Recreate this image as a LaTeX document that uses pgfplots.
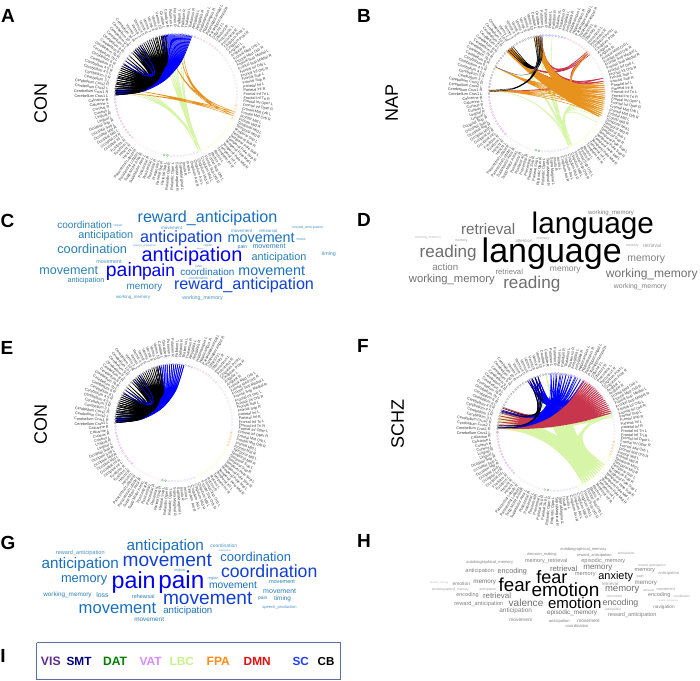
\documentclass[border=0pt]{standalone}
\usepackage{fontspec}
\setmainfont{Liberation Sans}
\usepackage{pgfplots}
\pgfplotsset{compat=1.18}
\definecolor{cA}{HTML}{0000F2}\definecolor{cB}{HTML}{0F3FD6}\definecolor{cC}{HTML}{1A6FBE}\definecolor{cD}{HTML}{2A7FB6}\definecolor{cE}{HTML}{4A93C4}
\definecolor{k0}{HTML}{000000}\definecolor{k1}{HTML}{6E6E6E}\definecolor{k2}{HTML}{808080}\definecolor{k3}{HTML}{989898}\definecolor{k4}{HTML}{B4B4B4}
\definecolor{labgray}{HTML}{3A3A3A}\definecolor{frameblue}{HTML}{5B6FA6}
\definecolor{chO}{HTML}{E8921E}\definecolor{chG}{HTML}{D6F5A6}\definecolor{chR}{HTML}{C8364E}
\tikzset{lbl/.style={font=\fontsize{3.8}{3.8}\selectfont,inner sep=0pt,text=labgray}}
\pgfplotsset{chord/.style={no markers,smooth,unbounded coords=jump,line width=.4pt,forget plot}}
\newcommand\wf{\fontsize{20}{24}\selectfont}
\newcommand\w[5]{\node[inner sep=0pt,text=#4] at (axis cs:#1,#2) {\resizebox{#3pt}{!}{\wf #5}};}
\def\AAL{Caudate L,Caudate R,Putamen L,Putamen R,Pallidum L,Pallidum R,Thalamus L,Thalamus R,Amygdala L,Amygdala R,Hippocampus L,Hippocampus R,ParaHippocampal L,ParaHippocampal R,Olfactory L,Olfactory R,Precuneus L,Precuneus R,Cingulum Post L,Cingulum Post R,Angular L,Angular R,Frontal Med Orb L,Frontal Med Orb R,Frontal Sup Medial L,Frontal Sup Medial R,Frontal Inf Orb L,Frontal Inf Orb R,Frontal Sup L,Frontal Sup R,Parietal Inf L,Parietal Inf R,Frontal Inf Tri L,Frontal Inf Tri R,Frontal Inf Oper L,Frontal Inf Oper R,Frontal Mid Orb L,Frontal Mid Orb R,Frontal Mid L,Frontal Mid R,Temporal Mid L,Temporal Mid R,Temporal Sup L,Temporal Sup R,Temporal Pole Sup L,Temporal Pole Sup R,Temporal Pole Mid L,Temporal Pole Mid R,Temporal Inf L,Temporal Inf R,Rectus L,Rectus R,Frontal Sup Orb L,Frontal Sup Orb R,Cingulum Mid L,Cingulum Mid R,Cingulum Ant L,Cingulum Ant R,Insula L,Insula R,SupraMarginal L,SupraMarginal R,Rolandic Oper L,Rolandic Oper R,Parietal Sup L,Parietal Sup R,Precentral L,Precentral R,Postcentral L,Postcentral R,Supp Motor Area L,Supp Motor Area R,Paracentral Lobule L,Paracentral Lobule R,Heschl L,Heschl R,Fusiform L,Fusiform R,Occipital Inf L,Occipital Inf R,Occipital Mid L,Occipital Mid R,Occipital Sup L,Occipital Sup R,Lingual L,Lingual R,Cuneus L,Cuneus R,Calcarine L,Calcarine R,Cerebellum Crus1 L,Cerebellum Crus1 R,Cerebellum Crus2 L,Cerebellum Crus2 R,Cerebellum 3 L,Cerebellum 3 R,Cerebellum 4 5 L,Cerebellum 4 5 R,Cerebellum 6 L,Cerebellum 6 R,Cerebellum 7b L,Cerebellum 7b R,Cerebellum 8 L,Cerebellum 8 R,Cerebellum 9 L,Cerebellum 9 R,Cerebellum 10 L,Cerebellum 10 R,Vermis 1 2,Vermis 3,Vermis 4 5,Vermis 6,Vermis 7,Vermis 8,Vermis 9,Vermis 10}
% chord bundle: centre x, centre y, radius, options, node angles of one end, node angles of other end
\newcommand\fan[6]{%
 \gdef\chordpts{}%
 \foreach \ca in {#5}{\foreach \cb in {#6}{%
  \pgfmathsetmacro\ax{#3*cos(\ca)}\pgfmathsetmacro\ay{-#3*sin(\ca)}%
  \pgfmathsetmacro\bx{#3*cos(\cb)}\pgfmathsetmacro\by{-#3*sin(\cb)}%
  \pgfmathsetmacro\xa{#1+\ax}\pgfmathsetmacro\ya{#2+\ay}%
  \pgfmathsetmacro\xb{#1+.5625*\ax+.0625*\bx}\pgfmathsetmacro\yb{#2+.5625*\ay+.0625*\by}%
  \pgfmathsetmacro\xc{#1+.25*\ax+.25*\bx}\pgfmathsetmacro\yc{#2+.25*\ay+.25*\by}%
  \pgfmathsetmacro\xd{#1+.0625*\ax+.5625*\bx}\pgfmathsetmacro\yd{#2+.0625*\ay+.5625*\by}%
  \pgfmathsetmacro\xe{#1+\bx}\pgfmathsetmacro\ye{#2+\by}%
  \xdef\chordpts{\chordpts(\xa,\ya)(\xb,\yb)(\xc,\yc)(\xd,\yd)(\xe,\ye)(nan,nan)}%
 }}%
 \edef\tmp{\noexpand\addplot[chord,#4] coordinates {\chordpts};}\tmp
}
\newcommand\arcmarks[5]{%
 \gdef\chordpts{}%
 \foreach \ca in {#5}{%
  \pgfmathsetmacro\xa{#1+#3*cos(\ca)}\pgfmathsetmacro\ya{#2-#3*sin(\ca)}%
  \xdef\chordpts{\chordpts(\xa,\ya)}%
 }%
 \edef\tmp{\noexpand\addplot[only marks,forget plot,mark=o,mark size=1pt,mark options={line width=.32pt,draw=#4,fill=white}] coordinates {\chordpts};}\tmp
}
\newcommand\ringnodes[3]{%
 \arcmarks{#1}{#2}{#3}{blue!35}{100,96.9,...,72}
 \arcmarks{#1}{#2}{#3}{blue!25!red!18}{72,68.9,...,44}
 \arcmarks{#1}{#2}{#3}{red!28!blue!10}{44,40.9,...,-10}
 \arcmarks{#1}{#2}{#3}{orange!40}{-10,-13.1,...,-24}
 \arcmarks{#1}{#2}{#3}{green!22!yellow!20}{-24,-27.1,...,-70}
 \arcmarks{#1}{#2}{#3}{red!28!blue!14}{-70,-73.1,...,-98}
 \arcmarks{#1}{#2}{#3}{green!50!black!50}{-98,-101.1,...,-104}
 \arcmarks{#1}{#2}{#3}{blue!28!red!8}{-104,-107.1,...,-136}
 \arcmarks{#1}{#2}{#3}{violet!28}{-136,-139.1,...,-180}
 \arcmarks{#1}{#2}{#3}{black!32}{-180,-183.1,...,-260}
}
\newcommand\labelring[3]{%
 \foreach \lab [count=\i from 0] in \AAL {%
  \pgfmathsetmacro\ang{100-\i*3.103}%
  \pgfmathsetmacro\csv{cos(\ang)}%
  \pgfmathsetmacro\xa{#1+(#3+6.5)*\csv}%
  \pgfmathsetmacro\ya{#2-(#3+6.5)*sin(\ang)}%
  \ifdim\csv pt>0pt
   \edef\tmp{\noexpand\node[lbl,anchor=west,rotate=\ang] at (axis cs:\xa,\ya) {\lab};}%
  \else
   \pgfmathsetmacro\rot{\ang+180}%
   \edef\tmp{\noexpand\node[lbl,anchor=east,rotate=\rot] at (axis cs:\xa,\ya) {\lab};}%
  \fi
  \tmp
 }%
}
\begin{document}
\begin{tikzpicture}
\begin{axis}[hide axis,scale only axis,width=700pt,height=680pt,xmin=0,xmax=700,ymin=0,ymax=680,y dir=reverse,clip=false,enlargelimits=false]
\path (axis cs:0,0) rectangle (axis cs:700,680);
% ---------- panel A
\ringnodes{176}{95}{61}\labelring{176}{95}{61}
\fan{176}{95}{61}{color=chG,line width=.5pt}{-66,-68}{168,172,175,178,80,84,92,96,100,104,108}
\fan{176}{95}{61}{color=chO,line width=.3pt}{-16,-18,-20}{82,86,100,173,178}
\fan{176}{95}{61}{color=blue,line width=.7pt}{170,172,...,180}{76,78,...,104}
\fan{176}{95}{61}{color=blue,line width=.7pt}{176,177,178,179,180}{75,77,...,103}
\fan{176}{95}{61}{color=black,line width=.55pt}{100,102,...,124}{152,154,...,180}
\fan{176}{95}{61}{color=black,line width=.55pt}{126,128,...,136}{150,152,...,180}
\fan{176}{95}{61}{color=black,line width=.55pt}{100,103,...,112}{126,128,...,134}
\fan{176}{95}{61}{color=black,line width=.55pt}{140,143,...,150}{160,163,...,178}
\fan{176}{95}{61}{color=blue}{126,132}{146,150}
% ---------- panel B
\ringnodes{547}{93.3}{58}\labelring{547}{93.3}{58}
\fan{547}{93.3}{58}{color=chG,line width=.5pt}{-67,-65}{85,97,100,103,128,131,177}
\fan{547}{93.3}{58}{color=chG,line width=.5pt}{-66,-68,-64}{-30,-24,-20,-16,-12,-8}
\fan{547}{93.3}{58}{color=chR,line width=.5pt}{42,44,46}{97,99,101,130,132}
\fan{547}{93.3}{58}{color=chR,line width=.5pt}{12,15}{97,99,101,129,132,177}
\fan{547}{93.3}{58}{color=chR,line width=.5pt}{44,46}{8,12,15}
\fan{547}{93.3}{58}{color=chO,line width=.6pt}{128,129,...,134}{10,8,...,-24}
\fan{547}{93.3}{58}{color=chO,line width=.6pt}{97,99,101,103}{10,8,...,-24}
\fan{547}{93.3}{58}{color=chO,line width=.5pt}{153,177}{8,2,...,-24}
\fan{547}{93.3}{58}{color=chO,line width=.5pt}{44,46}{-20,-24,-5}
\fan{547}{93.3}{58}{color=black}{95,97,...,103}{126,128,130,132}
\fan{547}{93.3}{58}{color=black}{95,98,101}{177,178.5}
\fan{547}{93.3}{58}{color=black!60}{153}{95,100}
% ---------- panel E
\ringnodes{173.7}{422.7}{58.5}\labelring{173.7}{422.7}{58.5}
\fan{173.7}{422.7}{58.5}{color=blue,line width=.7pt}{170,172,...,180}{80,82,...,106}
\fan{173.7}{422.7}{58.5}{color=blue,line width=.7pt}{176,177,178,179,180}{80,82,...,105}
\fan{173.7}{422.7}{58.5}{color=black,line width=.55pt}{104,106,...,124}{152,154,...,180}
\fan{173.7}{422.7}{58.5}{color=black,line width=.55pt}{126,128,...,136}{150,152,...,180}
\fan{173.7}{422.7}{58.5}{color=black,line width=.55pt}{104,107,...,112}{126,128,...,134}
\fan{173.7}{422.7}{58.5}{color=black,line width=.55pt}{140,143,...,150}{160,163,...,178}
\fan{173.7}{422.7}{58.5}{color=blue}{126,132}{146,150}
% ---------- panel F
\ringnodes{556}{432}{58.6}\labelring{556}{432}{58.6}
\fan{556}{432}{58.6}{color=chG,line width=.9pt}{-62,-59.5,...,-33}{176,174,...,158}
\fan{556}{432}{58.6}{color=chG,line width=.9pt}{-62,-59.5,...,-33}{119,100,90,80,70,17,20}
\fan{556}{432}{58.6}{color=chG,line width=.9pt}{176,170,165}{15,17,19,22}
\fan{556}{432}{58.6}{color=chR,line width=.7pt}{19,21,...,62}{176,173,...,155}
\fan{556}{432}{58.6}{color=chR,line width=.7pt}{19,21,...,62}{119,115,111}
\fan{556}{432}{58.6}{color=blue,line width=.45pt}{62,65,...,95}{176,174,160,158,119,115,111}
\fan{556}{432}{58.6}{color=blue,line width=.45pt}{108,111,...,119}{176,159,65,70,75,80,85,90,95}
\fan{556}{432}{58.6}{color=black}{108,111,...,119}{159,156,176,174}
% ---------- row labels and panel letters
\foreach \t/\x/\y in {A/8/16,B/364/16,C/7.5/221,D/364/220,E/7/348,F/363/346,G/8/543,H/364/541,I/3/656}{%
 \edef\tmp{\noexpand\node[inner sep=0pt,font=\noexpand\fontsize{19}{20}\noexpand\selectfont\noexpand\bfseries] at (axis cs:\x,\y) {\t};}\tmp}
\foreach \t/\x/\y in {CON/40.7/103,NAP/391.7/103,CON/40.7/424.5,SCHZ/397.7/424}{%
 \edef\tmp{\noexpand\node[inner sep=0pt,rotate=90,font=\noexpand\fontsize{18}{20}\noexpand\selectfont] at (axis cs:\x,\y) {\t};}\tmp}
% ---------- word cloud C
\w{207.5}{218.3}{139.7}{cC}{reward\_anticipation}
\w{84.7}{225.3}{54.7}{cD}{coordination}
\w{118}{225.3}{9}{cE}{region}
\w{105.8}{235.7}{55}{cD}{anticipation}
\w{181.2}{238}{82.3}{cB}{anticipation}
\w{171.7}{227.7}{21}{cE}{movement}
\w{241.7}{230.7}{21}{cE}{movement}
\w{268.3}{230.7}{18}{cE}{rehearsal}
\w{307.8}{228}{31}{cE}{reward\_anticipation}
\w{261.2}{237.7}{67}{cC}{movement}
\w{301.3}{239.3}{9.3}{cE}{motor}
\w{92.2}{249.3}{69.7}{cD}{coordination}
\w{144.7}{246}{22.7}{cE}{speech\_production}
\w{192}{256}{100.7}{cA}{anticipation}
\w{200}{248.7}{7}{cE}{memory}
\w{208}{245.7}{9}{cE}{region}
\w{242.5}{246.7}{9.7}{cD}{pain}
\w{269}{246.7}{33}{cD}{movement}
\w{279}{258}{55}{cD}{anticipation}
\w{328.8}{253.7}{14.3}{cE}{timing}
\w{109}{261.7}{25.3}{cE}{movement}
\w{68.7}{270.3}{58.7}{cD}{movement}
\w{124.3}{271.7}{36.7}{cA}{pain}
\w{158.5}{271.7}{33}{cA}{pain}
\w{207.3}{272}{54}{cC}{coordination}
\w{199}{266.3}{6.7}{cE}{pain}
\w{198.2}{278.7}{19}{cE}{coordination}
\w{271.7}{271}{66.7}{cC}{movement}
\w{86}{280.7}{36.7}{cD}{anticipation}
\w{244}{285.7}{140}{cB}{reward\_anticipation}
\w{144.5}{287.7}{35.7}{cD}{memory}
\w{133}{297.7}{34}{cE}{working\_memory}
\w{202.5}{297.7}{40.3}{cE}{working\_memory}
% ---------- word cloud D
\w{592.8}{226}{122.3}{k0}{language}
\w{611}{213}{46}{k2}{working\_memory}
\w{488.2}{229}{54.3}{k1}{retrieval}
\w{428}{237.7}{26}{k4}{working\_memory}
\w{461.2}{240.7}{12.3}{k3}{memory}
\w{524}{240.7}{17.3}{k3}{attention}
\w{543}{239.3}{12.7}{k3}{memory}
\w{551.7}{253.3}{140}{k0}{language}
\w{632.5}{246}{12.3}{k3}{memory}
\w{652}{246}{18.3}{k3}{retrieval}
\w{448.2}{253}{57}{k1}{reading}
\w{445.3}{266.7}{26}{k2}{action}
\w{646.2}{259.3}{37.7}{k2}{memory}
\w{509.3}{271.7}{27.3}{k2}{retrieval}
\w{565.3}{270}{30.7}{k2}{memory}
\w{651.8}{274.7}{91.7}{k1}{working\_memory}
\w{451.8}{279.7}{85.7}{k1}{working\_memory}
\w{531.8}{284.3}{57}{k1}{reading}
\w{640.3}{286.7}{52.7}{k2}{working\_memory}
% ---------- word cloud G
\w{165.3}{546.7}{77.3}{cC}{anticipation}
\w{223.7}{546}{26.7}{cE}{coordination}
\w{224.7}{550.7}{12}{cE}{anticipation}
\w{80.3}{553.3}{48.7}{cE}{reward\_anticipation}
\w{167.3}{560.7}{89.3}{cB}{movement}
\w{255.7}{556.7}{70.7}{cC}{coordination}
\w{80.3}{565}{77.3}{cC}{anticipation}
\w{269.2}{571}{96.3}{cB}{coordination}
\w{179.5}{570.7}{11}{cE}{region}
\w{84.2}{580.7}{46.3}{cC}{memory}
\w{133.7}{582.7}{44}{cA}{pain}
\w{181.3}{581.7}{46}{cA}{pain}
\w{213}{578.7}{11}{cE}{region}
\w{233}{585.3}{48}{cC}{movement}
\w{282}{581.7}{26}{cD}{movement}
\w{279.7}{591.7}{33}{cD}{movement}
\w{67.5}{595}{48.3}{cD}{working\_memory}
\w{102.5}{595}{12.3}{cD}{loss}
\w{143.3}{596.7}{22.7}{cD}{rehearsal}
\w{207.7}{598.3}{89.3}{cB}{movement}
\w{262.7}{598.3}{9.3}{cD}{pain}
\w{282.5}{599}{17}{cD}{timing}
\w{117.5}{607.7}{77.7}{cC}{movement}
\w{187.8}{611}{49}{cC}{anticipation}
\w{279.5}{607.7}{34.3}{cE}{speech\_production}
\w{149.2}{619}{29.7}{cD}{movement}
% ---------- word cloud H
\w{583.3}{549.7}{46}{k2}{autobiographical\_memory}
\w{542}{554}{29.3}{k2}{decision\_making}
\w{594.3}{555.3}{34.7}{k2}{reward\_anticipation}
\w{626}{553.7}{17}{k3}{anticipation}
\w{489.7}{562}{46.7}{k2}{autobiographical\_memory}
\w{546.2}{560.7}{42.3}{k2}{memory\_retrieval}
\w{603.3}{561.3}{44}{k2}{episodic\_memory}
\w{651.8}{565.3}{27.7}{k3}{reward\_anticipation}
\w{479.7}{571}{28.7}{k2}{anticipation}
\w{512.3}{571.3}{29.3}{k1}{encoding}
\w{563.7}{568.7}{27.3}{k1}{retrieval}
\w{597.8}{568.3}{29}{k1}{memory}
\w{644.8}{570.3}{20.3}{k2}{memory}
\w{668.7}{573.7}{20.7}{k3}{anticipation}
\w{551.8}{576.7}{31}{k0}{fear}
\w{585.3}{575}{20.7}{k2}{memory}
\w{615.7}{577}{34.7}{k0}{anxiety}
\w{640.2}{576.7}{7}{k3}{pain}
\w{461.3}{583.7}{17.3}{k2}{emotion}
\w{484.7}{582.7}{22.7}{k1}{memory}
\w{514.8}{585}{32.3}{k0}{fear}
\w{565.5}{589.7}{67.7}{k0}{emotion}
\w{610}{584.3}{16.3}{k3}{retrieval}
\w{645.8}{583}{22.3}{k2}{memory}
\w{450.3}{589.3}{36.7}{k3}{autobiographical\_memory}
\w{487.7}{589.7}{16.7}{k3}{anticipation}
\w{439}{582.7}{18}{k4}{decision\_making}
\w{622.2}{590.3}{34.3}{k1}{memory}
\w{648.3}{590}{11}{k3}{retrieval}
\w{665.8}{589}{18.3}{k3}{movement}
\w{467.5}{594.7}{22.3}{k2}{encoding}
\w{497}{595.7}{28}{k1}{retrieval}
\w{659.2}{595.3}{22.3}{k2}{encoding}
\w{614.5}{596.3}{15}{k3}{movement}
\w{681.7}{596.3}{16.7}{k3}{coordination}
\w{478.8}{604}{49}{k2}{reward\_anticipation}
\w{526}{602.7}{34.7}{k1}{valence}
\w{574.7}{603.3}{53.3}{k0}{emotion}
\w{620.5}{603.3}{35.7}{k1}{encoding}
\w{668.2}{600.7}{20}{k4}{reward\_anticipation}
\w{515.7}{611}{32.7}{k2}{anticipation}
\w{572}{613}{50}{k1}{episodic\_memory}
\w{613}{609.3}{16}{k3}{anticipation}
\w{664}{607.7}{21.3}{k2}{navigation}
\w{632.2}{615.3}{48.3}{k2}{reward\_anticipation}
\w{520.7}{619.7}{22.7}{k2}{movement}
\w{559.3}{621}{20.7}{k2}{anticipation}
\w{588.5}{621}{22.3}{k2}{movement}
\w{577}{625.7}{22.7}{k2}{coordination}
% ---------- legend
\addplot[forget plot,color=frameblue,line width=.8pt,no markers] coordinates {(36.7,642.7)(340,642.7)(340,679)(36.7,679)(36.7,642.7)};
\foreach \t/\x/\wid/\col in {VIS/50.8/19.7/5B2D8E,SMT/79/25/000080,DAT/115/24/008000,VAT/150.7/22/D68CFF,LBC/181.8/24.3/C8F08C,FPA/218.3/23.3/FF8C1A,DMN/257.2/27/E01010,SC/300.8/16.3/1F3DFF,CB/326/16.7/000000}{%
 \edef\tmp{\noexpand\node[inner sep=0pt] at (axis cs:\x,661.7) {\noexpand\definecolor{lg}{HTML}{\col}\noexpand\color{lg}\noexpand\resizebox{\wid pt}{!}{\noexpand\wf\noexpand\bfseries \t}};}\tmp}
\end{axis}
\end{tikzpicture}
\end{document}
